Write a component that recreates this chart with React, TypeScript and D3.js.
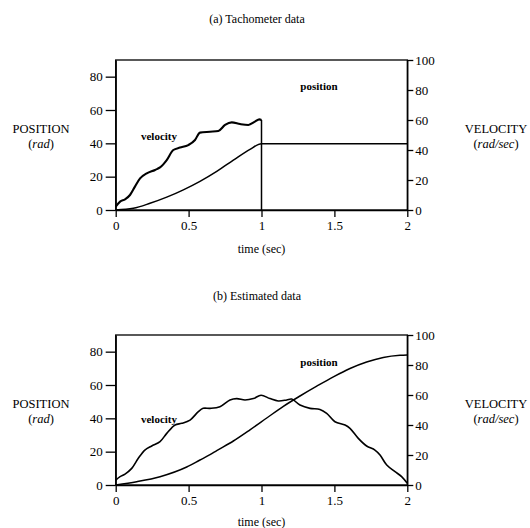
import React, { useEffect, useRef } from "react";
import * as d3 from "d3";

// ---- Data ----
const xTicks = [0, 0.5, 1, 1.5, 2];
const xTickLabels = ["0", "0.5", "1", "1.5", "2"];
const posTicks = [0, 20, 40, 60, 80];
const velTicks = [0, 20, 40, 60, 80, 100];

// (a) Tachometer data
const tachVelTime = [0, 0.03, 0.064, 0.098, 0.132, 0.167, 0.213, 0.27, 0.304, 0.35, 0.395, 0.441, 0.498, 0.544, 0.578, 0.647, 0.704, 0.75, 0.796, 0.853, 0.91, 0.955, 0.985, 1.0];
const tachVelocity = [2.2, 5.6, 7.1, 10, 15.6, 21.1, 24.4, 26.7, 28.4, 33.3, 40, 41.6, 43.3, 46.7, 51.6, 52.2, 52.7, 56.7, 58.4, 57.3, 56.7, 58.9, 60.4, 60];
const tachPosTime = [0, 0.121, 0.235, 0.35, 0.464, 0.578, 0.693, 0.807, 0.921, 1.0, 2.0];
const tachPosition = [0, 1.0, 4.0, 7.7, 12.1, 17.2, 23.2, 29.9, 36.4, 39.8, 39.8];

// (b) Estimated data
const estVelTime = [0, 0.03, 0.064, 0.11, 0.155, 0.2, 0.247, 0.304, 0.35, 0.407, 0.453, 0.51, 0.567, 0.6, 0.647, 0.715, 0.784, 0.83, 0.887, 0.944, 0.997, 1.058, 1.115, 1.173, 1.207, 1.264, 1.333, 1.401, 1.447, 1.504, 1.573, 1.607, 1.664, 1.721, 1.778, 1.813, 1.859, 1.916, 1.961, 2.0];
const estVelocity = [3.3, 5.6, 7.3, 11.1, 17.8, 23.3, 26, 28.9, 34.4, 40, 41.1, 43.3, 48.9, 51.1, 51.1, 52.2, 56.7, 57.6, 56.7, 57.6, 59.8, 57.6, 56, 56.7, 57.3, 53.3, 51.1, 50.4, 47.8, 42.2, 40, 37.8, 31.1, 26, 23.3, 20, 13.3, 8.9, 5.6, 1.1];
const estPosTime = [0, 0.144, 0.304, 0.487, 0.578, 0.647, 0.693, 0.807, 0.921, 1.036, 1.15, 1.264, 1.379, 1.493, 1.607, 1.721, 1.835, 1.95, 2.0];
const estPosition = [0, 2.0, 5.0, 10.8, 15.0, 18.2, 20.6, 26.4, 33.1, 40.2, 47.2, 53.4, 59.3, 64.9, 69.9, 73.8, 76.5, 77.8, 78];

const FONT = "'Liberation Serif', 'Times New Roman', serif";

type Panel = {
  title: string;
  top: number;
  bottom: number;
  titleY: number;
  xLabelY: number;
  velT: number[];
  vel: number[];
  posT: number[];
  pos: number[];
  estimated: boolean;
  posLabel: [number, number];
  velLabel: [number, number];
};

const panels: Panel[] = [
  {
    title: "(a) Tachometer data",
    top: 60,
    bottom: 210,
    titleY: 23,
    xLabelY: 253,
    velT: tachVelTime,
    vel: tachVelocity,
    posT: tachPosTime,
    pos: tachPosition,
    estimated: false,
    posLabel: [319, 90],
    velLabel: [159, 140],
  },
  {
    title: "(b) Estimated data",
    top: 335,
    bottom: 485,
    titleY: 300,
    xLabelY: 526,
    velT: estVelTime,
    vel: estVelocity,
    posT: estPosTime,
    pos: estPosition,
    estimated: true,
    posLabel: [319, 366],
    velLabel: [159, 423],
  },
];

const X0 = 115.7;
const X1 = 407.3;

export default function App() {
  const ref = useRef<SVGSVGElement | null>(null);

  useEffect(() => {
    const svg = d3.select(ref.current);
    svg.selectAll("*").remove();

    const x = d3.scaleLinear().domain([0, 2]).range([X0, X1]);

    panels.forEach((p) => {
      const yPos = d3.scaleLinear().domain([0, 90]).range([p.bottom, p.top]);
      const yVel = d3.scaleLinear().domain([0, 100]).range([p.bottom, p.top]);
      const g = svg.append("g");

      g.append("text")
        .attr("x", 257)
        .attr("y", p.titleY)
        .attr("text-anchor", "middle")
        .attr("font-family", FONT)
        .attr("font-size", 12)
        .text(p.title);

      g.append("rect")
        .attr("x", X0)
        .attr("y", p.top)
        .attr("width", X1 - X0)
        .attr("height", p.bottom - p.top)
        .attr("fill", "none")
        .attr("stroke", "#000")
        .attr("stroke-width", 1.3);

      const xAxis = d3
        .axisBottom(x)
        .tickValues(xTicks)
        .tickFormat((_d, i) => xTickLabels[i])
        .tickSizeInner(7)
        .tickSizeOuter(0)
        .tickPadding(4);
      const ga = g.append("g").attr("transform", `translate(0,${p.bottom})`).call(xAxis);

      const lAxis = d3
        .axisLeft(yPos)
        .tickValues(posTicks)
        .tickFormat(d3.format("d"))
        .tickSizeInner(10)
        .tickSizeOuter(0)
        .tickPadding(3);
      const gl = g.append("g").attr("transform", `translate(${X0},0)`).call(lAxis);

      const rAxis = d3
        .axisRight(yVel)
        .tickValues(velTicks)
        .tickFormat(d3.format("d"))
        .tickSizeInner(6)
        .tickSizeOuter(0)
        .tickPadding(2);
      const gr = g.append("g").attr("transform", `translate(${X1},0)`).call(rAxis);

      [ga, gl, gr].forEach((a) => {
        a.select(".domain").attr("stroke", "#000").attr("stroke-width", 1.3);
        a.selectAll(".tick line").attr("stroke", "#000").attr("stroke-width", 1.3);
        a.selectAll(".tick text")
          .attr("font-family", FONT)
          .attr("font-size", 13)
          .attr("fill", "#000");
      });

      g.append("text")
        .attr("x", (X0 + X1) / 2)
        .attr("y", p.xLabelY)
        .attr("text-anchor", "middle")
        .attr("font-family", FONT)
        .attr("font-size", 12)
        .text("time (sec)");

      const midY = (p.top + p.bottom) / 2;
      g.append("text")
        .attr("x", 41)
        .attr("y", midY - 2)
        .attr("text-anchor", "middle")
        .attr("font-family", FONT)
        .attr("font-size", 12.5)
        .text("POSITION");
      const lt = g.append("text")
        .attr("x", 41)
        .attr("y", midY + 13)
        .attr("text-anchor", "middle")
        .attr("font-family", FONT)
        .attr("font-size", 12.5);
      lt.append("tspan").text("(");
      lt.append("tspan").attr("font-style", "italic").text("rad");
      lt.append("tspan").text(")");

      g.append("text")
        .attr("x", 496)
        .attr("y", midY - 2)
        .attr("text-anchor", "middle")
        .attr("font-family", FONT)
        .attr("font-size", 12.5)
        .text("VELOCITY");
      const rt = g.append("text")
        .attr("x", 496)
        .attr("y", midY + 13)
        .attr("text-anchor", "middle")
        .attr("font-family", FONT)
        .attr("font-size", 12.5);
      rt.append("tspan").text("(");
      rt.append("tspan").attr("font-style", "italic").text("rad/sec");
      rt.append("tspan").text(")");

      const posLine = d3
        .line<number>()
        .x((_d, i) => x(p.posT[i]))
        .y((d) => yPos(d))
        .curve(d3.curveMonotoneX);
      g.append("path")
        .attr("d", posLine(p.pos) || "")
        .attr("fill", "none")
        .attr("stroke", "#000")
        .attr("stroke-width", 1.5);

      const velLine = d3
        .line<number>()
        .x((_d, i) => x(p.velT[i]))
        .y((d) => yVel(d))
        .curve(p.estimated ? d3.curveCatmullRom.alpha(0.5) : d3.curveMonotoneX);
      g.append("path")
        .attr("d", velLine(p.vel) || "")
        .attr("fill", "none")
        .attr("stroke", "#000")
        .attr("stroke-width", p.estimated ? 1.6 : 2.1)
        .attr("stroke-linejoin", "round");

      if (!p.estimated) {
        // velocity drops to zero when the tachometer record ends
        const last = p.velT.length - 1;
        g.append("line")
          .attr("x1", x(p.velT[last]))
          .attr("x2", x(p.velT[last]))
          .attr("y1", yVel(p.vel[last]))
          .attr("y2", yVel(0))
          .attr("stroke", "#000")
          .attr("stroke-width", 1.5);
      }

      g.append("text")
        .attr("x", p.posLabel[0])
        .attr("y", p.posLabel[1])
        .attr("text-anchor", "middle")
        .attr("font-family", FONT)
        .attr("font-size", 11)
        .attr("font-weight", "bold")
        .text("position");
      g.append("text")
        .attr("x", p.velLabel[0])
        .attr("y", p.velLabel[1])
        .attr("text-anchor", "middle")
        .attr("font-family", FONT)
        .attr("font-size", 11)
        .attr("font-weight", "bold")
        .text("velocity");
    });
  }, []);

  return (
    <svg
      ref={ref}
      width={530}
      height={528}
      style={{ position: "absolute", left: 0, top: 0, background: "#fff" }}
    />
  );
}
